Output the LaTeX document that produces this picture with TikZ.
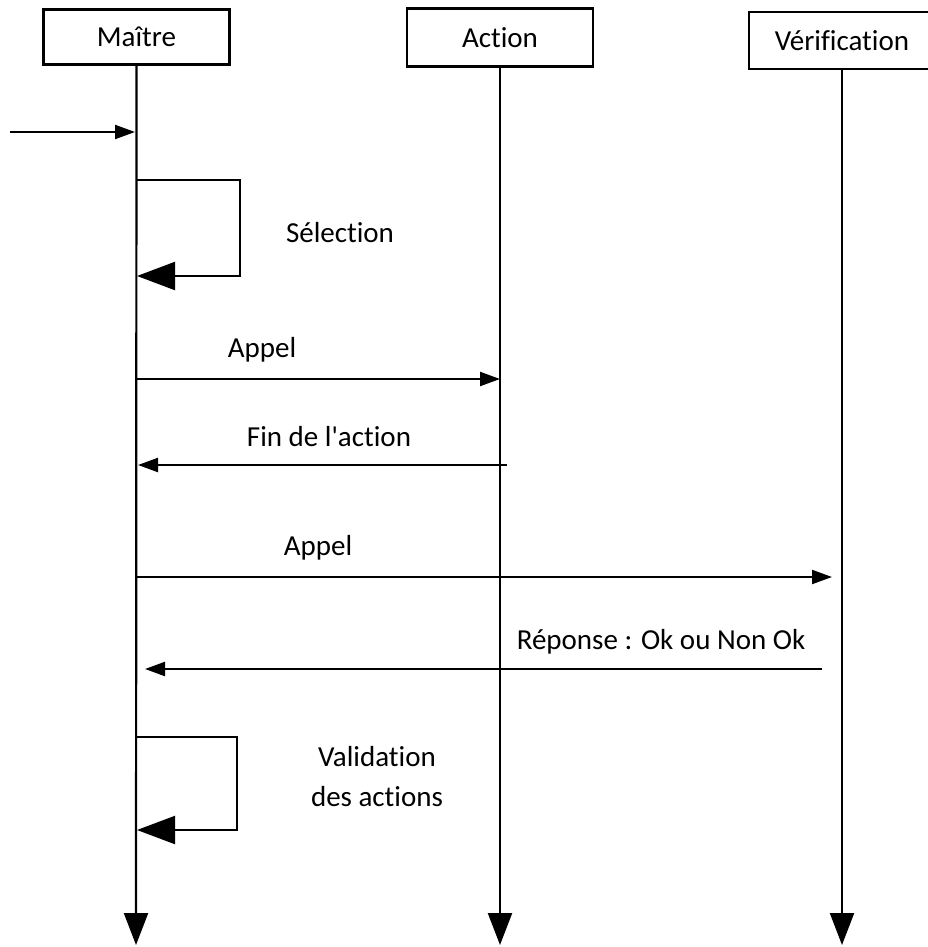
\documentclass[tikz,border=0pt]{standalone}
\usepackage{fontspec}
\setmainfont{Carlito}[Ligatures={TeXOff,NoCommon}]
\usetikzlibrary{arrows.meta}
\begin{document}
\begin{tikzpicture}[x=1pt,y=-1pt,
  lbl/.style={font=\fontsize{29}{40}\selectfont, inner sep=0pt, align=center},
  actor/.style={draw, line width=2.2pt, minimum width=186pt, minimum height=55pt, inner sep=0pt, font=\fontsize{29}{35}\selectfont},
  life/.style={line width=2.2pt, -{Triangle[length=32pt,width=24pt]}},
  msg/.style={line width=2.2pt, -{Triangle[length=20pt,width=14pt]}},
  selfmsg/.style={line width=2.2pt, -{Triangle[length=38pt,width=28pt]}}]
\useasboundingbox (0,0) rectangle (928,947);
% actors
\node[actor] (m) at (136.5,37) {Maître};
\node[actor, minimum height=58pt] (a) at (500,37.5) {Action};
\node[actor, minimum height=57pt] (v) at (842,40.5) {Vérification};
% lifeline ends
\coordinate (mEnd) at (136,945);
\coordinate (aEnd) at (500,945);
\coordinate (vEnd) at (842,945);
\draw[life] (m.south) -- (mEnd);
\draw[life] (a.south) -- (aEnd);
\draw[life] (v.south) -- (vEnd);
% entry
\coordinate (in0) at (10,132);
\coordinate (in1) at (135,132);
\draw[msg] (in0) -- (in1);
% Sélection
\coordinate (s0) at (136,180);
\coordinate (s1) at (137,276);
\draw[selfmsg] (s0) -- (240,180) -- (240,276) -- (s1);
\node[lbl] (lsel) at (340,233) {Sélection};
% Appel 1
\coordinate (ap0) at (136,379);
\coordinate (ap1) at (500,379);
\draw[msg] (ap0) -- (ap1);
\node[lbl] (lap1) at (262,350) {Appel};
% Fin de l'action
\coordinate (f0) at (507,465);
\coordinate (f1) at (138,465);
\draw[msg] (f0) -- (f1);
\node[lbl] (lfin) at (329,437) {Fin de l'action};
% Appel 2
\coordinate (b0) at (136,577);
\coordinate (b1) at (832,577);
\draw[msg] (b0) -- (b1);
\node[lbl] (lap2) at (318,548) {Appel};
% Réponse
\coordinate (r0) at (822,669);
\coordinate (r1) at (145,669);
\draw[msg] (r0) -- (r1);
\node[lbl] (lrep) at (661,642) {Réponse : Ok ou Non Ok};
% Validation
\coordinate (va0) at (136,737);
\coordinate (va1) at (137,830);
\draw[selfmsg] (va0) -- (237,737) -- (237,830) -- (va1);
\node[lbl] (lval) at (377,777) {Validation\\des actions};
\end{tikzpicture}
\end{document}
